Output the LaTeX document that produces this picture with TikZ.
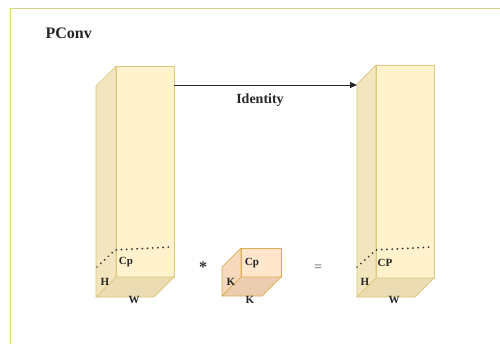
\documentclass[tikz,border=0pt]{standalone}
\usepackage{fontspec}
\setmainfont{Liberation Serif}
\usetikzlibrary{arrows.meta}
\definecolor{frameC}{RGB}{214,214,130}
\definecolor{yFront}{HTML}{FFF2CC}
\definecolor{ySide}{HTML}{F3E5BE}
\definecolor{yBot}{HTML}{EBDCB3}
\definecolor{yStroke}{HTML}{DCC77A}
\definecolor{oFront}{HTML}{FFE6CC}
\definecolor{oSide}{HTML}{F5D9BA}
\definecolor{oBot}{HTML}{EBCEAF}
\definecolor{oStroke}{HTML}{E0AE50}
\newcommand{\mycuboid}[9]{%
  % #1 x1, #2 y1, #3 x2, #4 y2, #5 depth, #6 front, #7 side, #8 bottom, #9 stroke
  \filldraw[fill=#6,draw=#9,line width=0.7pt] (#1+#5,#2) rectangle (#3,#4-#5);
  \filldraw[fill=#7,draw=#9,line width=0.7pt,line join=round] (#1,#2+#5) -- (#1+#5,#2) -- (#1+#5,#4-#5) -- (#1,#4) -- cycle;
  \filldraw[fill=#8,draw=#9,line width=0.7pt,line join=round] (#1,#4) -- (#1+#5,#4-#5) -- (#3,#4-#5) -- (#3-#5,#4) -- cycle;
}
\tikzset{
  lbl/.style={font=\fontsize{11}{13}\selectfont\bfseries, text=black!85, inner sep=0pt},
  dots/.style={line width=2pt, line cap=round, black!80, dash pattern=on 0.01pt off 5.2pt},
  conn/.style={line width=0.8pt, black!85, -{Triangle[length=7pt,width=6pt]}}
}
\begin{document}
\begin{tikzpicture}[x=1pt,y=-1pt]
\useasboundingbox (0,0) rectangle (500,343);
\fill[white] (0,0) rectangle (500,343);
\begin{scope}
\clip (0,0) rectangle (500,343);
\draw[frameC, line width=0.9pt] (10,8) rectangle (520,360);
\end{scope}
\node[font=\fontsize{16}{18}\selectfont\bfseries, text=black!85, anchor=west] (title) at (42,33) {PConv};
% left cuboid
\mycuboid{96}{66}{174}{297}{20}{yFront}{ySide}{yBot}{yStroke}
% right cuboid
\mycuboid{357}{65}{434}{297}{19}{yFront}{ySide}{yBot}{yStroke}
% kernel cube
\mycuboid{222}{248}{281}{296}{19}{oFront}{oSide}{oBot}{oStroke}
% arrow
\coordinate (aStart) at (174,85);
\coordinate (aEnd) at (357,85);
\draw[conn] (aStart) -- (aEnd);
\node[font=\fontsize{14}{16}\selectfont\bfseries, text=black!85] (ident) at (260,100) {Identity};
% dotted lines
\coordinate (d1a) at (97,267);
\coordinate (d1b) at (115,250);
\coordinate (d1c) at (171,247);
\draw[dots] (d1a) -- (d1b) -- (d1c);
\coordinate (d2a) at (357,267);
\coordinate (d2b) at (376,250);
\coordinate (d2c) at (432,247);
\draw[dots] (d2a) -- (d2b) -- (d2c);
% labels left
\node[lbl] (cpL) at (126,262) {Cp};
\node[lbl] (hL) at (105,282) {H};
\node[lbl] (wL) at (134,300) {W};
% kernel labels
\node[lbl] (cpK) at (252,263) {Cp};
\node[lbl] (kL) at (231,282) {K};
\node[lbl] (kB) at (250,300) {K};
% right labels
\node[lbl] (cpR) at (385,263) {CP};
\node[lbl] (hR) at (365,282) {H};
\node[lbl] (wR) at (394,300) {W};
% operators
\node[font=\fontsize{16}{18}\selectfont\bfseries, text=black!80] (star) at (203,267) {*};
\node[font=\fontsize{14}{16}\selectfont, text=black!70] (eq) at (318,268) {=};
\end{tikzpicture}
\end{document}
